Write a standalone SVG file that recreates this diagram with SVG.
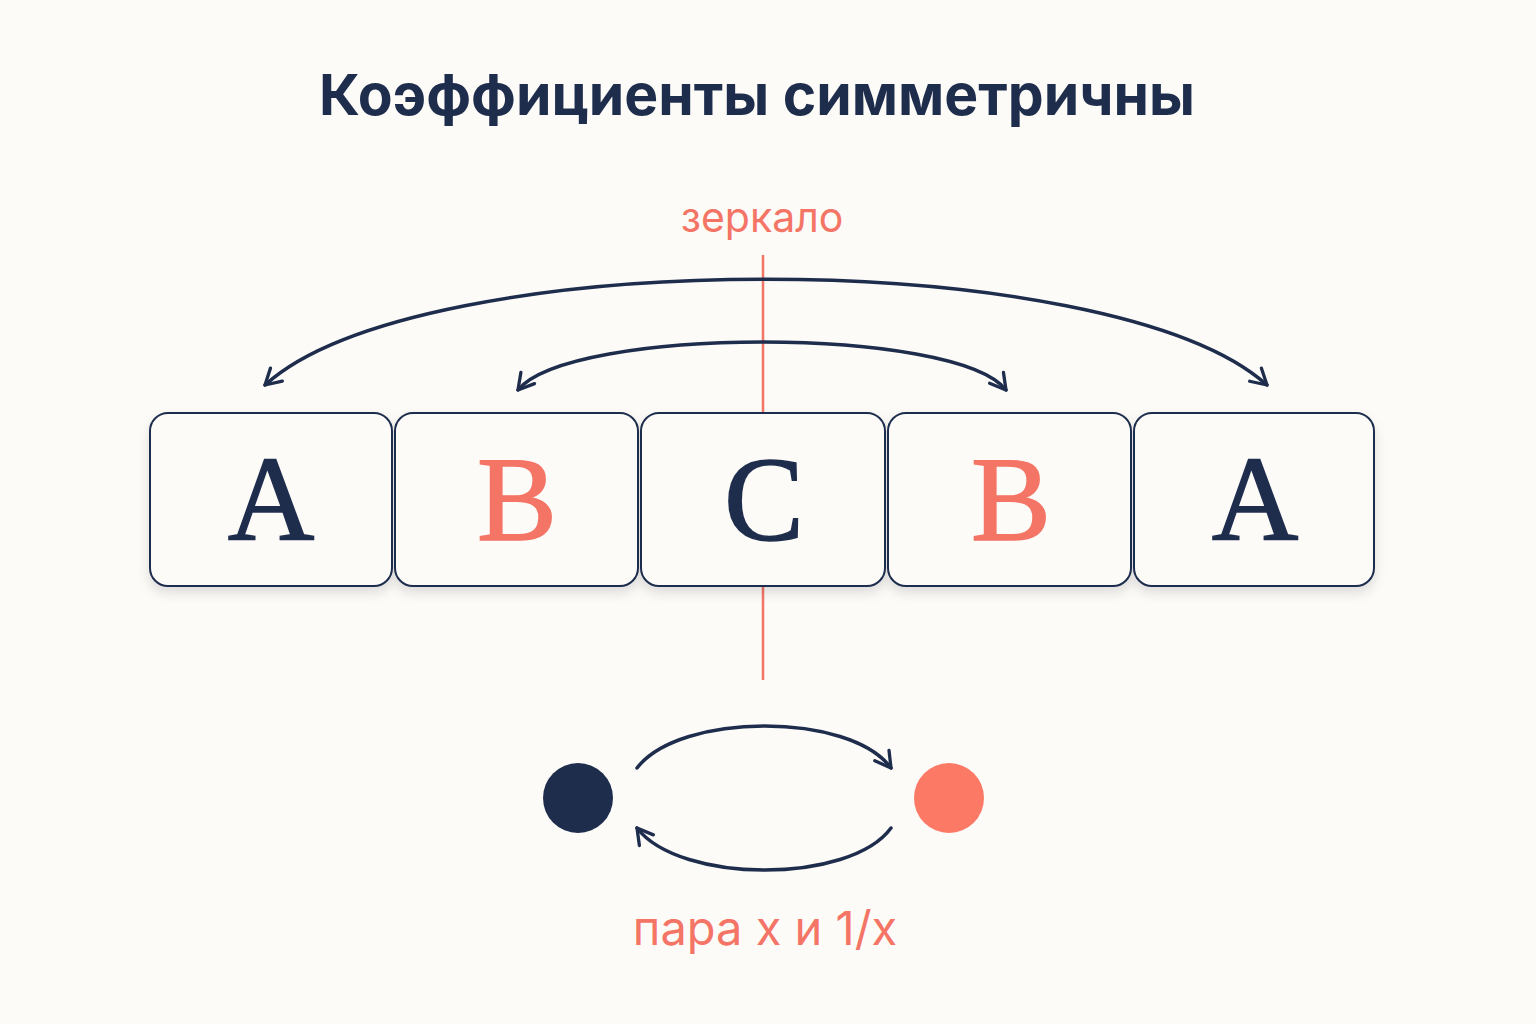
<svg xmlns="http://www.w3.org/2000/svg" width="1536" height="1024" viewBox="0 0 1536 1024">
<defs>
<style>
.box{fill:#fcfbf8;stroke:#1f2d4d;stroke-width:2}
.arc{fill:none;stroke:#1f2d4d;stroke-width:3.5;stroke-linecap:round}
.let{font-family:"Liberation Serif","DejaVu Serif",serif;font-size:120px;text-anchor:middle;stroke-width:1.5}
.navy{fill:#1f2d4d;stroke:#1f2d4d}
.coral{fill:#f47565;stroke:#f47565}
</style>
<filter id="sh" x="-10%" y="-10%" width="120%" height="130%">
<feDropShadow dx="0" dy="6" stdDeviation="6" flood-color="#000" flood-opacity="0.12"/>
</filter>
<marker id="ah" viewBox="0 0 20 20" refX="17" refY="10" markerWidth="22" markerHeight="22" markerUnits="userSpaceOnUse" orient="auto-start-reverse">
<path d="M3,2 L17,10 L3,18" fill="none" stroke="#1f2d4d" stroke-width="3" stroke-linecap="round" stroke-linejoin="round"/>
</marker>
</defs>
<rect width="1536" height="1024" fill="#fcfbf8"/>
<text x="757" y="115" font-family="Inter,'Noto Sans',sans-serif" font-weight="700" font-size="57" fill="#1f2d4d" text-anchor="middle">Коэффициенты симметричны</text>
<text x="762" y="232" font-family="Inter,'Noto Sans',sans-serif" font-size="41" fill="#f47565" text-anchor="middle">зеркало</text>
<line id="mirror" x1="763" y1="255" x2="763" y2="680" stroke="#f47565" stroke-width="2.5"/>
<g id="boxes" filter="url(#sh)">
<g id="n1"><rect class="box" x="150" y="413" width="242" height="173" rx="18"/></g>
<g id="n2"><rect class="box" x="395" y="413" width="243" height="173" rx="18"/></g>
<g id="n3"><rect class="box" x="641" y="413" width="244" height="173" rx="18"/></g>
<g id="n4"><rect class="box" x="888" y="413" width="243" height="173" rx="18"/></g>
<g id="n5"><rect class="box" x="1134" y="413" width="240" height="173" rx="18"/></g>
</g>
<g id="labels">
<text class="let navy" x="271" y="540">A</text>
<text class="let coral" x="517" y="540">B</text>
<text class="let navy" x="764" y="540">C</text>
<text class="let coral" x="1011" y="540">B</text>
<text class="let navy" x="1255" y="540">A</text>
</g>
<g id="connectors">
<path class="arc" d="M265,385 C420,244 1110,244 1267,385" marker-start="url(#ah)" marker-end="url(#ah)"/>
<path class="arc" d="M518,390 C570,326 956,326 1006,390" marker-start="url(#ah)" marker-end="url(#ah)"/>
<path class="arc" d="M637,768 C680,712 850,712 891,768" marker-end="url(#ah)"/>
<path class="arc" d="M891,828 C850,884 680,884 637,828" marker-end="url(#ah)"/>
</g>
<g id="dot1"><circle cx="578" cy="798" r="35" fill="#1f2d4d"/></g>
<g id="dot2"><circle cx="949" cy="798" r="35" fill="#fc7965"/></g>
<text x="765" y="945" font-family="Inter,'Noto Sans',sans-serif" font-size="47" fill="#f47565" text-anchor="middle">пара x и 1/x</text>
</svg>
